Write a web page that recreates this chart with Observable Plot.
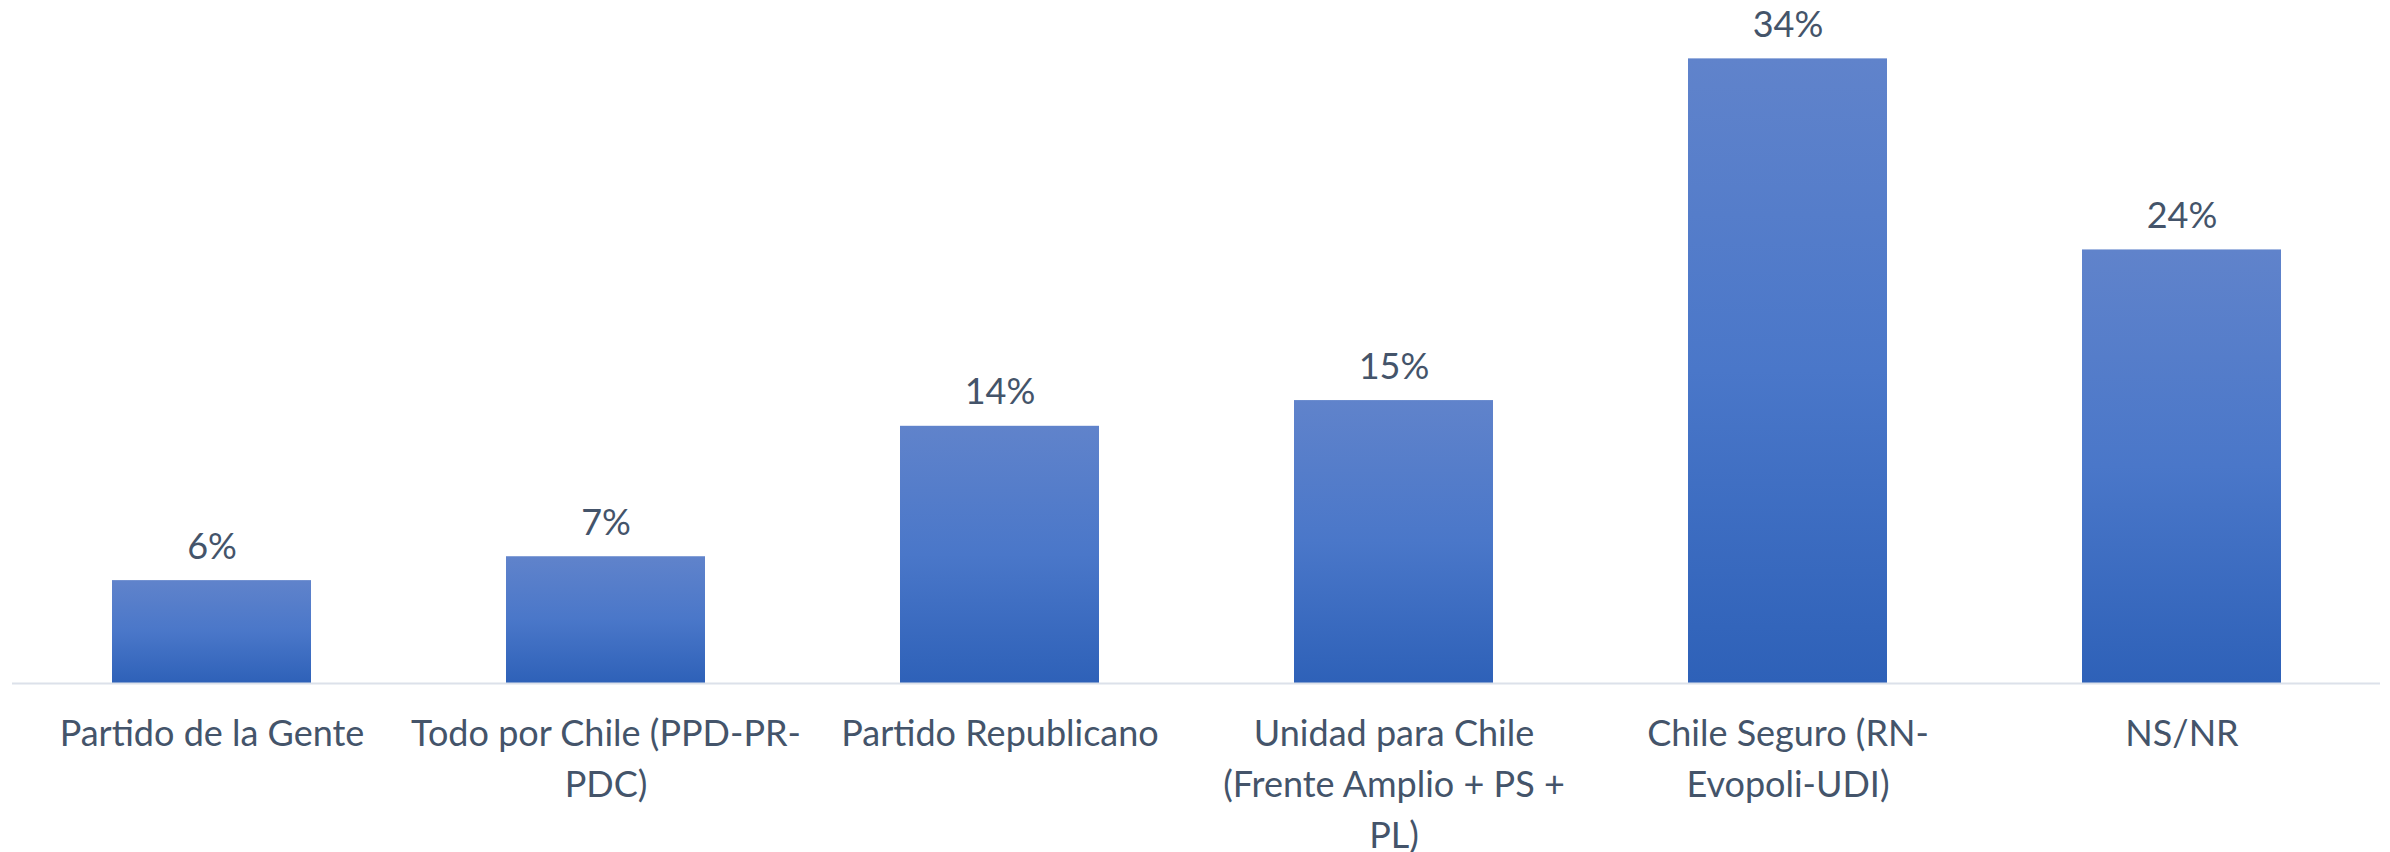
<!DOCTYPE html>
<html>
<head>
<meta charset="utf-8">
<script src="https://cdn.jsdelivr.net/npm/d3@7"></script>
<script src="https://cdn.jsdelivr.net/npm/@observablehq/plot@0.6"></script>
<style>
  html, body { margin: 0; padding: 0; background: #ffffff; }
  #chart { width: 2390px; height: 852px; }
</style>
</head>
<body>
<div id="chart"></div>
<script>
const categories = [
  "Partido de la Gente",
  "Todo por Chile (PPD-PR-PDC)",
  "Partido Republicano",
  "Unidad para Chile (Frente Amplio + PS + PL)",
  "Chile Seguro (RN-Evopoli-UDI)",
  "NS/NR"
];
const tickLabels = [
  "Partido de la Gente",
  "Todo por Chile (PPD-PR-\nPDC)",
  "Partido Republicano",
  "Unidad para Chile\n(Frente Amplio + PS +\nPL)",
  "Chile Seguro (RN-\nEvopoli-UDI)",
  "NS/NR"
];
const values = [5.6, 6.9, 14.0, 15.4, 34.0, 23.6];

const data = categories.map((c, i) => ({category: c, value: values[i], tick: tickLabels[i]}));
const tickMap = new Map(data.map(d => [d.category, d.tick]));

const textColor = "#44546A";
const font = "Lato, 'Open Sans', sans-serif";

const chart = Plot.plot({
  width: 2390,
  height: 852,
  marginTop: 40,
  marginBottom: 169,
  marginLeft: 12,
  marginRight: 10,
  style: {fontFamily: font, background: "#ffffff", color: textColor},
  x: {domain: categories, paddingInner: 0.496, paddingOuter: 0.248, label: null},
  y: {domain: [0, 35], axis: null},
  marks: [
    Plot.barY(data, {x: "category", y: "value", fill: "url(#barGrad)"}),
    Plot.ruleY([0], {stroke: "#DCE1EA", strokeWidth: 2}),
    Plot.text(data, {
      x: "category", y: "value",
      text: d => d3.format(".0f")(d.value) + "%",
      dy: -22, lineAnchor: "bottom",
      fontSize: 36, fill: textColor
    }),
    Plot.axisX({
      tickSize: 0, tickPadding: 26,
      tickFormat: d => tickMap.get(d),
      fontSize: 36, lineHeight: 1.42,
      fill: textColor, label: null
    })
  ]
});

const ns = "http://www.w3.org/2000/svg";
const defs = document.createElementNS(ns, "defs");
const grad = document.createElementNS(ns, "linearGradient");
grad.setAttribute("id", "barGrad");
grad.setAttribute("x1", "0"); grad.setAttribute("y1", "0");
grad.setAttribute("x2", "0"); grad.setAttribute("y2", "1");
[["0%", "#6083CB"], ["50%", "#4A77C9"], ["100%", "#2E61B8"]].forEach(([o, c]) => {
  const s = document.createElementNS(ns, "stop");
  s.setAttribute("offset", o);
  s.setAttribute("stop-color", c);
  grad.appendChild(s);
});
defs.appendChild(grad);
chart.insertBefore(defs, chart.firstChild);

document.getElementById("chart").appendChild(chart);
</script>
</body>
</html>
